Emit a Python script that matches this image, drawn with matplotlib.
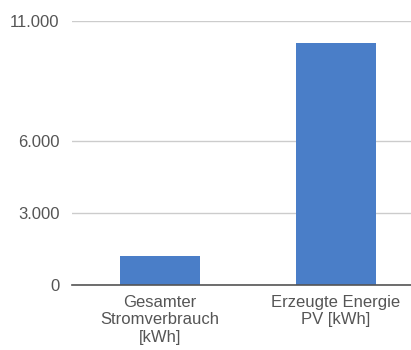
import matplotlib
matplotlib.use("Agg")
import matplotlib.pyplot as plt

categories = ["Gesamter\nStromverbrauch\n[kWh]", "Erzeugte Energie\nPV [kWh]"]
values = [1200, 10100]
yticks = [0, 3000, 6000, 11000]
ytick_labels = ["0", "3.000", "6.000", "11.000"]

plt.rcParams["font.family"] = ["Liberation Sans", "DejaVu Sans"]

fig = plt.figure(figsize=(4.11, 3.5), dpi=100)
W, H = 411, 350
left, right = 72, 424
top, bottom = 21, 285
ax = fig.add_axes([left / W, 1 - bottom / H, (right - left) / W, (bottom - top) / H])

x = range(len(values))
ax.bar(x, values, width=0.46, color="#4a7ec8", zorder=3)

ax.set_xlim(-0.5, 1.5)
ax.set_ylim(0, 11000)
ax.set_yticks(yticks)
ax.set_yticklabels(ytick_labels)
ax.set_xticks(list(x))
ax.set_xticklabels(categories, linespacing=1.22)

ax.grid(axis="y", color="#cccccc", linewidth=1, zorder=0)
for s in ["top", "right", "left"]:
    ax.spines[s].set_visible(False)
ax.spines["bottom"].set_color("#555555")
ax.spines["bottom"].set_linewidth(1.2)
ax.spines["bottom"].set_zorder(4)

ax.tick_params(axis="both", length=0, labelsize=12, colors="#555555")
ax.tick_params(axis="y", pad=9)
ax.tick_params(axis="x", pad=7)

fig.savefig("out.png", dpi=100)
